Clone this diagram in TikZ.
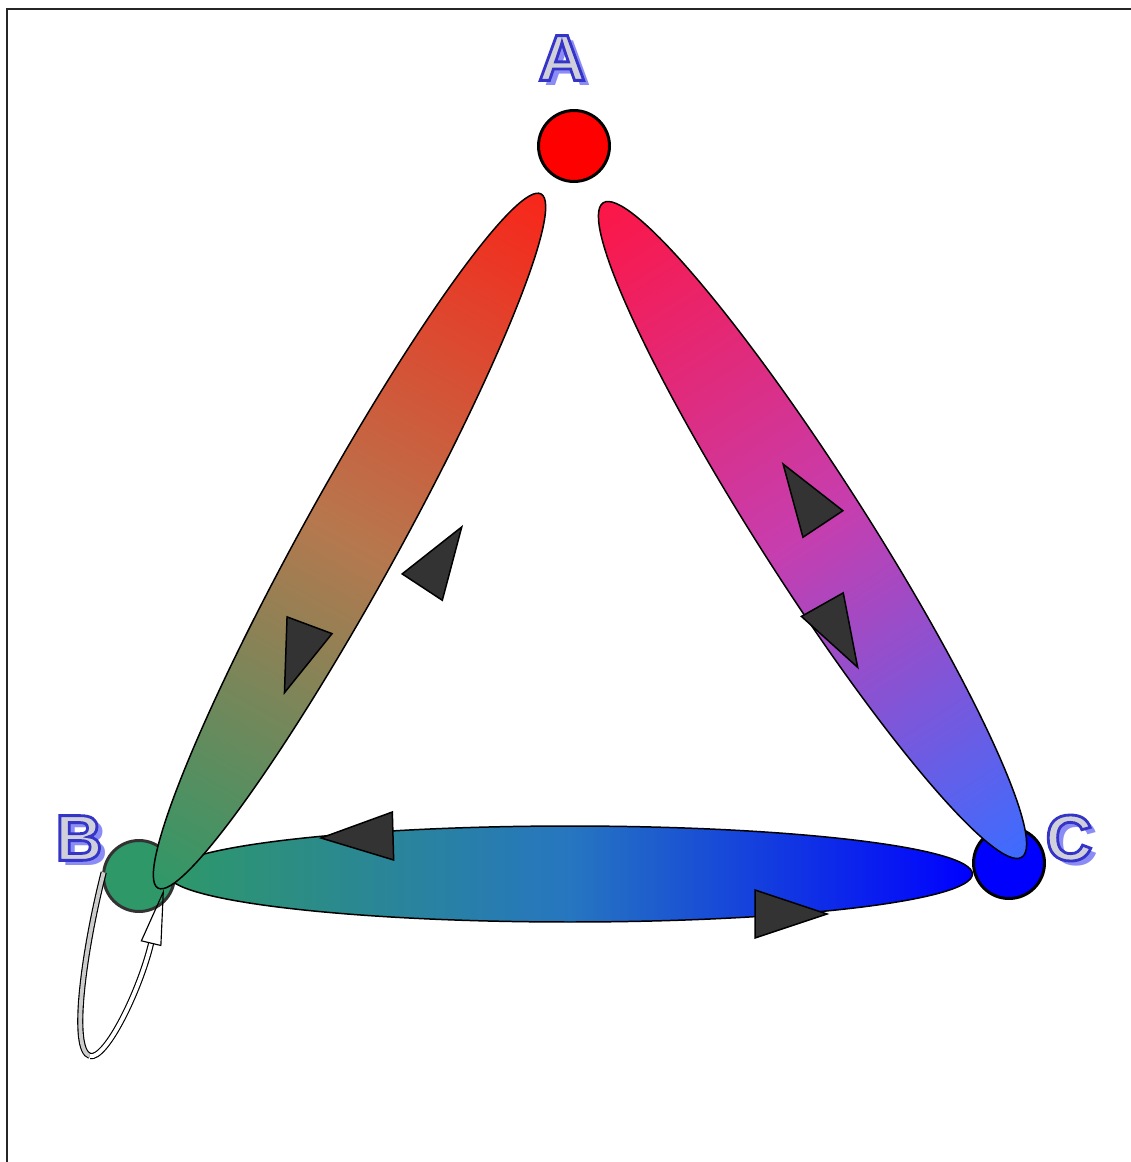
\documentclass[tikz,border=0pt]{standalone}
\usepackage{fontspec}
\newfontfamily\labelfont{Liberation Sans}
\usetikzlibrary{shapes.geometric,arrows.meta}
\definecolor{colA}{RGB}{255,0,0}
\definecolor{colB}{RGB}{46,152,104}
\definecolor{colC}{RGB}{0,0,255}
\definecolor{redAB}{RGB}{248,38,26}
\definecolor{midAB}{RGB}{182,120,78}
\definecolor{redAC}{RGB}{252,22,70}
\definecolor{midAC}{RGB}{198,62,175}
\definecolor{blueAC}{RGB}{60,108,255}
\definecolor{midBC}{RGB}{38,118,192}
\definecolor{headgray}{RGB}{51,51,51}
\definecolor{lblfill}{RGB}{208,208,218}
\definecolor{lblshadow}{RGB}{140,140,245}
\tikzset{
  vertex/.style={circle, draw=black, line width=1.7pt, minimum size=1.42cm, inner sep=0pt, outer sep=0pt},
  blob/.style={ellipse, draw=black, line width=0.85pt, inner sep=0pt, outer sep=0pt},
  headmark/.pic={\draw[fill=headgray, draw=black, line width=0.85pt] (36,0) -- (-36,24) -- (-36,-24) -- cycle;},
  selfloop/.style={draw=black, line width=0.65pt, double distance=2.2pt, line cap=butt},
  lbl/.style={font=\labelfont\bfseries\fontsize{37}{37}\selectfont, inner sep=0pt, text=lblfill},
  frameline/.style={draw=black!85, line width=1.1pt}
}
% stroked letter (blue rim) over a drop shadow
\newcommand\rimmed[1]{\special{pdf:literal direct 2 Tr 1.6 w 0.204 0.204 0.784 RG}#1\special{pdf:literal direct 0 Tr}}
\newcommand\glowtext[3]{%
  \node[lbl, text=lblshadow] (#1s) at ([shift={(6,5)}]#2) {#3};
  \node[lbl] (#1) at (#2) {\rimmed{#3}};
}

\begin{document}
\begin{tikzpicture}[x=0.02cm, y=-0.02cm]
\useasboundingbox[fill=white] (0,0) rectangle (1131,1162);
\draw[frameline] (7,1162) -- (7,9) -- (1131,9);

% vertices
\node[vertex, fill=colA] (A) at (574,146) {};
\node[vertex, fill=colB, draw=headgray] (B) at (139,876) {};
\node[vertex, fill=colC] (C) at (1009,863) {};

% edges as shaded blobs
\begin{scope}[transform canvas={shift={(570,874)}}]
  \node[blob, minimum width=16.1cm, minimum height=1.92cm, left color=colB, right color=colC, middle color=midBC] (eBC) at (0,0) {};
\end{scope}
\begin{scope}[transform canvas={shift={(349.5,541)}, rotate=61.1}]
  \node[blob, minimum width=15.86cm, minimum height=1.92cm, left color=colB, right color=redAB, middle color=midAB] (eAB) at (0,0) {};
\end{scope}
\begin{scope}[transform canvas={shift={(812.5,530)}, rotate=-57.4}]
  \node[blob, minimum width=15.54cm, minimum height=2.14cm, left color=redAC, right color=blueAC, middle color=midAC] (eAC) at (0,0) {};
\end{scope}

% arrow heads
\pic[rotate=249.6] at (297,659) {headmark};
\pic[rotate=56.7] at (442,557) {headmark};
\pic[rotate=123.6] at (803,494) {headmark};
\pic[rotate=-60.6] at (840,636) {headmark};
\pic[rotate=181.6] at (357,837) {headmark};
\pic at (791,914) {headmark};

% self loop on B
\coordinate (lbot) at (90,1056);
\coordinate (loopin) at (164,889);
\draw[selfloop, double=black!20] (B.174) .. controls (84,950) and (70,1050) .. (lbot);
\draw[selfloop, double=white, -{Triangle[open, length=32pt, width=12pt]}] (lbot) .. controls (106,1060) and (140,990) .. (loopin);

% labels
\glowtext{lA}{562,58}{A}
\glowtext{lB}{79,838}{B}
\glowtext{lC}{1069,838}{C}
\end{tikzpicture}
\end{document}
